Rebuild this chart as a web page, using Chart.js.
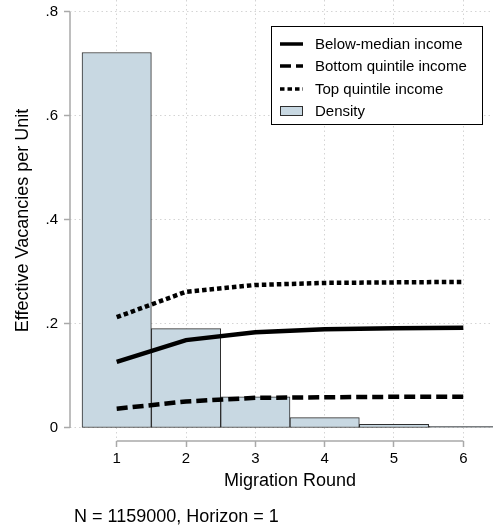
<!DOCTYPE html>
<html>
<head>
<meta charset="utf-8">
<script src="https://cdn.jsdelivr.net/npm/chart.js@4"></script>
<style>
  html, body { margin: 0; padding: 0; background: #fff; overflow: hidden; }
  #wrap { position: relative; width: 493px; height: 529px; overflow: hidden; }
  #c { position: absolute; left: 0; top: 0; }
  #note { position: absolute; left: 74px; top: 507px; font: 18px "Liberation Sans", Arial, Helvetica, sans-serif; line-height: 18px; color: #000; white-space: nowrap; }
</style>
</head>
<body>
<div id="wrap">
  <canvas id="c" width="510" height="529" style="width:510px;height:529px"></canvas>
  <div id="note">N = 1159000, Horizon = 1</div>
</div>
<script>
// ---- data ----
const rounds = [1, 2, 3, 4, 5, 6];
const densityValues = [0.722, 0.191, 0.060, 0.020, 0.007, 0.003];
const belowMedianIncome = [0.127, 0.169, 0.184, 0.190, 0.192, 0.193];
const bottomQuintileIncome = [0.037, 0.051, 0.058, 0.059, 0.060, 0.060];
const topQuintileIncome = [0.213, 0.262, 0.275, 0.279, 0.280, 0.281];
const yTickValues = [0, 0.2, 0.4, 0.6, 0.8];
const yTickLabels = ['0', '.2', '.4', '.6', '.8'];
const xTickValues = [1, 2, 3, 4, 5, 6];
const xTickLabels = ['1', '2', '3', '4', '5', '6'];
const seriesLabels = ['Below-median income', 'Bottom quintile income', 'Top quintile income', 'Density'];

const FONT = '"Liberation Sans", Arial, Helvetica, sans-serif';
const BAR_FILL = '#c8d8e2';
const BAR_EDGE = '#2e2e2e';
const AXIS_GRAY = '#a9a9a9';

const toXY = arr => rounds.map((r, i) => ({ x: r, y: arr[i] }));

const axisLines = {
  id: 'axisLines',
  beforeDatasetsDraw(chart) {
    const { ctx, chartArea, scales } = chart;
    const xs = scales.x, ys = scales.y;
    ctx.save();
    ctx.strokeStyle = AXIS_GRAY;
    ctx.lineWidth = 1.5;
    ctx.beginPath();
    ctx.moveTo(chartArea.left, ys.getPixelForValue(yTickValues[yTickValues.length - 1]));
    ctx.lineTo(chartArea.left, ys.getPixelForValue(yTickValues[0]));
    ctx.moveTo(xs.getPixelForValue(xTickValues[0]), chartArea.bottom);
    ctx.lineTo(xs.getPixelForValue(xTickValues[xTickValues.length - 1]), chartArea.bottom);
    ctx.stroke();
    ctx.restore();
  }
};

const boxLegend = {
  id: 'boxLegend',
  afterDraw(chart) {
    const ctx = chart.ctx;
    const bx = 271.5, by = 26.5, bw = 211, bh = 98;
    ctx.save();
    ctx.fillStyle = '#fff';
    ctx.fillRect(bx, by, bw, bh);
    ctx.strokeStyle = '#000';
    ctx.lineWidth = 1;
    ctx.strokeRect(bx, by, bw, bh);
    const rows = [44, 66, 89, 111];
    const order = [0, 1, 2, 3];
    ctx.font = '15px ' + FONT;
    ctx.textBaseline = 'middle';
    ctx.textAlign = 'left';
    order.forEach((di, k) => {
      const ds = chart.data.datasets[di];
      const y = rows[k];
      if (ds.type === 'line') {
        ctx.save();
        ctx.strokeStyle = '#000';
        ctx.lineWidth = 3.5;
        ctx.lineCap = 'butt';
        ctx.setLineDash(ds.borderDash || []);
        ctx.beginPath();
        ctx.moveTo(280, y);
        ctx.lineTo(303, y);
        ctx.stroke();
        ctx.restore();
      } else {
        ctx.fillStyle = BAR_FILL;
        ctx.fillRect(280.5, 106.5, 22, 9);
        ctx.strokeStyle = BAR_EDGE;
        ctx.lineWidth = 1;
        ctx.strokeRect(280.5, 106.5, 22, 9);
      }
      ctx.fillStyle = '#000';
      ctx.fillText(ds.label, 315, y + 0.5);
    });
    ctx.restore();
  }
};

new Chart(document.getElementById('c'), {
  type: 'bar',
  data: {
    datasets: [
      { type: 'line', label: seriesLabels[0], data: toXY(belowMedianIncome), borderColor: '#000', borderWidth: 4.5, pointRadius: 0, tension: 0, fill: false, order: 1, borderCapStyle: 'butt' },
      { type: 'line', label: seriesLabels[1], data: toXY(bottomQuintileIncome), borderColor: '#000', borderWidth: 4.5, borderDash: [11, 5], pointRadius: 0, tension: 0, fill: false, order: 2, borderCapStyle: 'butt' },
      { type: 'line', label: seriesLabels[2], data: toXY(topQuintileIncome), borderColor: '#000', borderWidth: 4.5, borderDash: [4.5, 3], pointRadius: 0, tension: 0, fill: false, order: 3, borderCapStyle: 'butt' },
      { type: 'bar', label: seriesLabels[3], data: toXY(densityValues), backgroundColor: BAR_FILL, borderColor: BAR_EDGE, borderWidth: 1, borderSkipped: false, barPercentage: 1, categoryPercentage: 1, order: 10 }
    ]
  },
  options: {
    responsive: false,
    animation: false,
    devicePixelRatio: 1,
    layout: { padding: { left: 0, right: 0, top: 0, bottom: 33 } },
    plugins: { legend: { display: false }, tooltip: { enabled: false } },
    scales: {
      x: {
        type: 'linear',
        offset: false,
        min: 0.3265,
        max: 6.6735,
        afterBuildTicks(s) { s.ticks = xTickValues.map(v => ({ value: v })); },
        afterFit(s) { s.height = 55; s.paddingLeft = 0; s.paddingRight = 0; },
        grid: { offset: false, color: '#d4d4d4', lineWidth: 1, drawTicks: true, tickLength: 6, tickColor: AXIS_GRAY, tickWidth: 1.5, tickBorderDash: [] },
        border: { display: false, dash: [1.5, 3] },
        ticks: {
          autoSkip: false, maxRotation: 0, padding: 3, color: '#000',
          font: { family: FONT, size: 15 },
          callback: (v) => { const i = xTickValues.indexOf(v); return i >= 0 ? xTickLabels[i] : ''; }
        },
        title: { display: true, text: 'Migration Round', color: '#000', font: { family: FONT, size: 18 }, padding: { top: 0, bottom: 4 } }
      },
      y: {
        type: 'linear',
        min: -0.025,
        max: 0.823,
        beginAtZero: false,
        afterBuildTicks(s) { s.ticks = yTickValues.map(v => ({ value: v })); },
        afterFit(s) { s.width = 70; s.paddingTop = 0; s.paddingBottom = 0; },
        grid: { color: '#d4d4d4', lineWidth: 1, drawTicks: true, tickLength: 6, tickColor: AXIS_GRAY, tickWidth: 1.5, tickBorderDash: [] },
        border: { display: false, dash: [1.5, 3] },
        ticks: {
          autoSkip: false, padding: 6, color: '#000',
          font: { family: FONT, size: 15 },
          callback: (v) => { const i = yTickValues.indexOf(v); return i >= 0 ? yTickLabels[i] : ''; }
        },
        title: { display: true, text: 'Effective Vacancies per Unit', color: '#000', font: { family: FONT, size: 18 }, padding: { top: 12, bottom: 0 } }
      }
    }
  },
  plugins: [axisLines, boxLegend]
});
</script>
</body>
</html>
